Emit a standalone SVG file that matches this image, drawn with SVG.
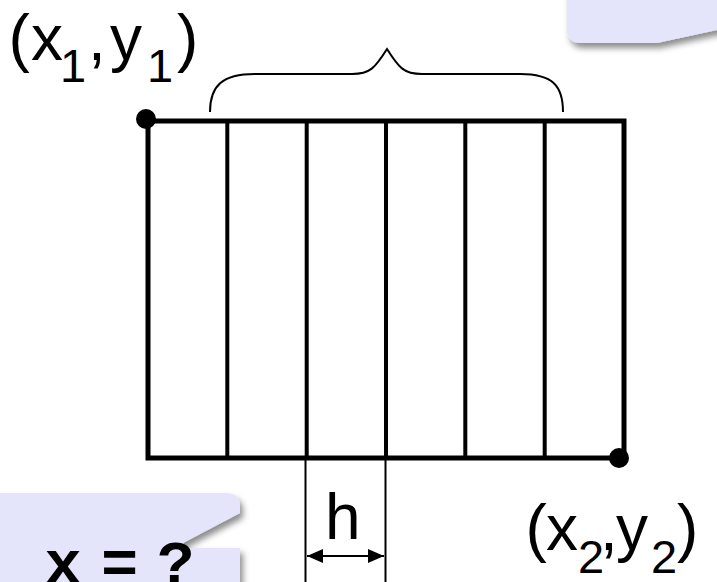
<svg xmlns="http://www.w3.org/2000/svg" width="717" height="582" viewBox="0 0 717 582">
  <defs>
    <filter id="shadow" x="-20%" y="-20%" width="140%" height="150%">
      <feDropShadow dx="3" dy="5" stdDeviation="3" flood-color="#000" flood-opacity="0.45"/>
    </filter>
    <marker id="arr" viewBox="0 0 16 14" refX="16" refY="7" markerWidth="16" markerHeight="14" markerUnits="userSpaceOnUse" orient="auto-start-reverse">
      <path d="M0,0 L16,7 L0,14 Z" fill="#000"/>
    </marker>
  </defs>
  <style>
    .lbl { font-family: "Liberation Sans", Arial, sans-serif; fill: #000; }
    .main { font-size: 64px; }
    .sub { font-size: 47px; }
    .code { font-family: "Liberation Mono", "Courier New", monospace; font-weight: bold; font-size: 62px; letter-spacing: -9px; fill: #000; }
    .callout { fill: #e4e4fb; filter: url(#shadow); }
    .outer { fill: none; stroke: #000; stroke-width: 5; }
    .inner { stroke: #000; stroke-width: 4; }
    .thin { stroke: #000; stroke-width: 2; fill: none; }
  </style>
  <rect width="717" height="582" fill="#fff"/>

  <g id="callout-top">
    <path class="callout" d="M567,-20 V29 Q567,43 581,43 L657,43 L717,30 L740,30 V-20 Z"/>
  </g>

  <g id="label-p1">
    <text class="lbl main" y="60"><tspan x="8.5">(</tspan><tspan x="31">x</tspan></text>
    <text class="lbl sub" x="60" y="82">1</text>
    <text class="lbl main" x="88" y="60">,</text>
    <text class="lbl main" x="110" y="60">y</text>
    <text class="lbl sub" x="147" y="82">1</text>
    <text class="lbl main" x="177" y="60">)</text>
  </g>

  <g id="brace">
    <path class="thin" d="M210,112 C210,86 222,74 255,74 L352,74 C370,74 375,68 387,49 C399,68 404,74 422,74 L520,74 C553,74 563,86 563,112"/>
  </g>

  <g id="rectangle">
    <rect class="outer" x="148" y="121" width="476" height="337"/>
    <line class="inner" x1="227.3" y1="121" x2="227.3" y2="458"/>
    <line class="inner" x1="306.7" y1="121" x2="306.7" y2="458"/>
    <line class="inner" x1="386" y1="121" x2="386" y2="458"/>
    <line class="inner" x1="465.3" y1="121" x2="465.3" y2="458"/>
    <line class="inner" x1="544.7" y1="121" x2="544.7" y2="458"/>
  </g>

  <g id="point-1">
    <circle cx="146" cy="119" r="10" fill="#000"/>
  </g>
  <g id="point-2">
    <circle cx="619" cy="458" r="10" fill="#000"/>
  </g>

  <g id="connectors">
    <line class="thin" x1="305.5" y1="458" x2="305.5" y2="582"/>
    <line class="thin" x1="385.5" y1="458" x2="385.5" y2="582"/>
    <line class="thin" x1="307" y1="556" x2="384" y2="556" marker-start="url(#arr)" marker-end="url(#arr)"/>
  </g>

  <g id="label-h">
    <text class="lbl" x="325" y="539" font-size="64">h</text>
  </g>

  <g id="label-p2">
    <text class="lbl main" y="550"><tspan x="525.5">(</tspan><tspan x="546">x</tspan></text>
    <text class="lbl sub" x="578" y="573">2</text>
    <text class="lbl main" x="600" y="550">,</text>
    <text class="lbl main" x="616" y="550">y</text>
    <text class="lbl sub" x="651" y="573">2</text>
    <text class="lbl main" x="677" y="550">)</text>
  </g>

  <g id="callout-x">
    <path class="callout" d="M-20,493 H226 Q240,493 240,507 V513 L183,543 L186,548 H240 V600 H-20 Z"/>
    <text class="code" x="44.5" y="583" xml:space="preserve">x = ?</text>
  </g>
</svg>
